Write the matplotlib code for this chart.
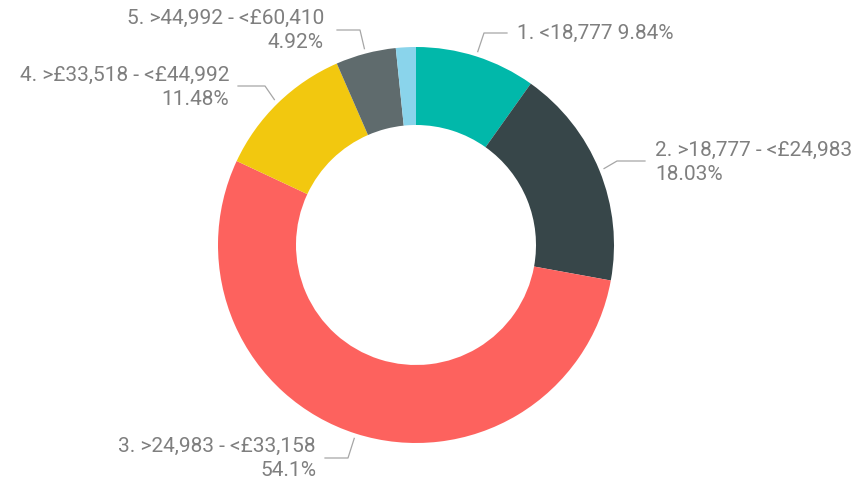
import numpy as np
import matplotlib
matplotlib.use('Agg')
import matplotlib.pyplot as plt

W, H = 859, 479

labels = ['1. <18,777', '2. >18,777 - <£24,983', '3. >24,983 - <£33,158',
          '4. >£33,518 - <£44,992', '5. >44,992 - <£60,410', '6.']
shares = [9.84, 18.03, 54.10, 11.48, 4.92, 1.63]
pct_text = ['9.84%', '18.03%', '54.1%', '11.48%', '4.92%', '']
colors = ['#01B8AA', '#374649', '#FD625E', '#F2C80F', '#5F6B6D', '#8AD4EB']

# donut geometry in pixels (y from top)
cx, cy, r_out, r_in = 416, 245, 198, 120

# label layout: elbow point, line end, text x, first line y, alignment (pixels from top)
layout = {
    0: dict(elbow=(484, 33), end=(507, 33), tx=517, ty=33, ha='left', one_line=True),
    1: dict(elbow=(617, 161), end=(645, 161), tx=655, ty=150, ha='left', one_line=False),
    2: dict(elbow=(348, 458), end=(325, 458), tx=316, ty=446, ha='right', one_line=False),
    3: dict(elbow=(265, 86), end=(238, 86), tx=229, ty=75, ha='right', one_line=False),
    4: dict(elbow=(360, 30), end=(337, 30), tx=324, ty=18, ha='right', one_line=False),
}

fig = plt.figure(figsize=(W / 100, H / 100), dpi=100)
ax = fig.add_axes([0, 0, 1, 1])

ax.pie(shares, colors=colors, startangle=90, counterclock=False,
       center=(cx, H - cy), radius=r_out,
       wedgeprops=dict(width=r_out - r_in, edgecolor='none'))
ax.set_xlim(0, W)
ax.set_ylim(0, H)
ax.set_aspect('equal')
ax.axis('off')

txt_color = '#7f7f7f'
line_color = '#a6a6a6'
font = dict(fontsize=15, color=txt_color, family='Roboto', va='center')
cum = np.cumsum([0] + shares[:-1])
for i, lay in layout.items():
    mid = 90 - (cum[i] + shares[i] / 2) / 100 * 360
    a = np.deg2rad(mid)
    sx = cx + 203 * np.cos(a)
    sy = cy - 203 * np.sin(a)
    ex, ey = lay['elbow']
    fx, fy = lay['end']
    ax.plot([sx, ex, fx], [H - sy, H - ey, H - fy], color=line_color, lw=0.9)
    if lay['one_line']:
        ax.text(lay['tx'], H - lay['ty'], labels[i] + ' ' + pct_text[i],
                ha=lay['ha'], **font)
    else:
        ax.text(lay['tx'], H - lay['ty'], labels[i], ha=lay['ha'], **font)
        ax.text(lay['tx'], H - lay['ty'] - 24, pct_text[i], ha=lay['ha'], **font)

fig.savefig('out.png', dpi=100)
